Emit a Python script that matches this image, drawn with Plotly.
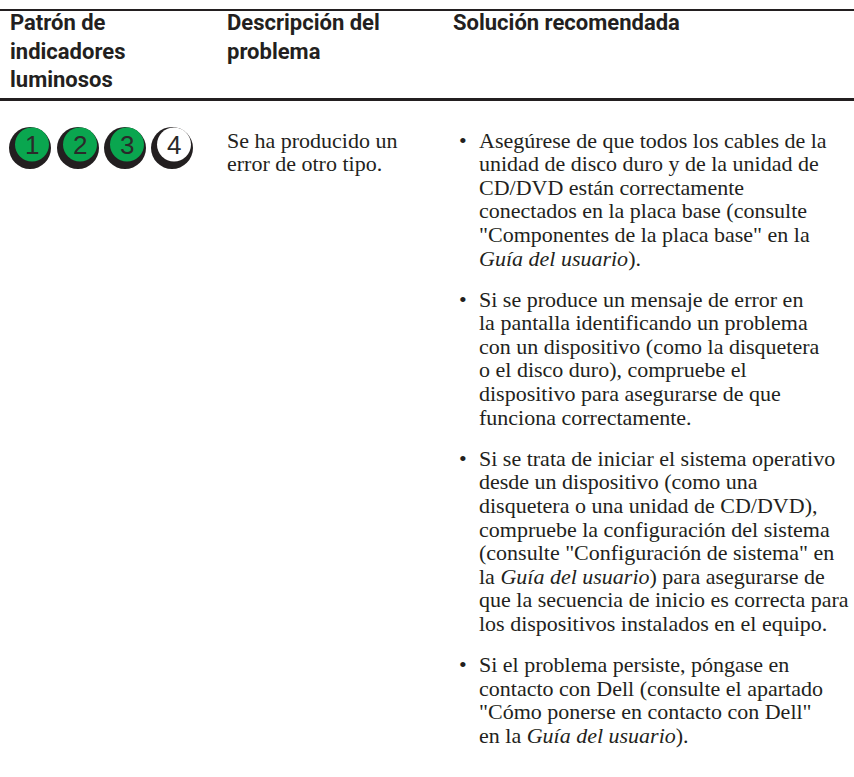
import plotly.graph_objects as go

# ---- table content ----
headers = [
    ["Patrón de", "indicadores", "luminosos"],
    ["Descripción del", "problema"],
    ["Solución recomendada"],
]
led_labels = ["1", "2", "3", "4"]
led_on = [True, True, True, False]
description = ["Se ha producido un", "error de otro tipo."]
solutions = [
    ["Asegúrese de que todos los cables de la",
     "unidad de disco duro y de la unidad de",
     "CD/DVD están correctamente",
     "conectados en la placa base (consulte",
     "\"Componentes de la placa base\" en la",
     "<i>Guía del usuario</i>)."],
    ["Si se produce un mensaje de error en",
     "la pantalla identificando un problema",
     "con un dispositivo (como la disquetera",
     "o el disco duro), compruebe el",
     "dispositivo para asegurarse de que",
     "funciona correctamente."],
    ["Si se trata de iniciar el sistema operativo",
     "desde un dispositivo (como una",
     "disquetera o una unidad de CD/DVD),",
     "compruebe la configuración del sistema",
     "(consulte \"Configuración de sistema\" en",
     "la <i>Guía del usuario</i>) para asegurarse de",
     "que la secuencia de inicio es correcta para",
     "los dispositivos instalados en el equipo."],
    ["Si el problema persiste, póngase en",
     "contacto con Dell (consulte el apartado",
     "\"Cómo ponerse en contacto con Dell\"",
     "en la <i>Guía del usuario</i>)."],
]

# ---- layout constants ----
W, H = 854, 777
col_x = [8, 225, 451]
bullet_x, text_x = 463, 477
body_size = 22
head_size = 22
line0, lead, gap = 140, 23.6, 17.5
ink = "#231f20"
green = "#0aa64f"
body_font = dict(family="Liberation Serif, Times New Roman, serif", size=body_size, color=ink)
head_font = dict(family="Roboto, Liberation Sans, Arial, sans-serif",
                 size=head_size, color=ink, weight="bold")

fig = go.Figure()
ann = []
shapes = []

# header
head_centers = [22, 51, 79]
for c, lines in enumerate(headers):
    for i, t in enumerate(lines):
        ann.append(dict(x=col_x[c], y=head_centers[i], text=t, font=head_font))

# rules
shapes.append(dict(type="line", x0=0, x1=W, y0=10, y1=10, line=dict(color=ink, width=2)))
shapes.append(dict(type="line", x0=0, x1=W, y0=99.5, y1=99.5, line=dict(color=ink, width=3)))

# LED indicators
led_cx = [31, 79, 126, 173]
for cx, lab, on in zip(led_cx, led_labels, led_on):
    shapes.append(dict(type="circle", x0=cx - 22, x1=cx + 20, y0=127, y1=169,
                       fillcolor=ink, line=dict(width=0)))
    shapes.append(dict(type="circle", x0=cx - 16, x1=cx + 18, y0=127.5, y1=161.5,
                       fillcolor=green if on else "white", line=dict(width=0)))
    ann.append(dict(x=cx + 1, y=145, text=lab, xanchor="center",
                    font=dict(family="Liberation Sans, Arial, sans-serif", size=26, color="#2a2a2a")))

# description column
for i, t in enumerate(description):
    ann.append(dict(x=col_x[1], y=line0 + lead * i, text=t, font=body_font))

# solutions
k = 0
for b, lines in enumerate(solutions):
    for j, t in enumerate(lines):
        yc = line0 + lead * k + gap * b
        if j == 0:
            ann.append(dict(x=bullet_x, y=yc, text="•", xanchor="center", font=body_font))
        ann.append(dict(x=text_x, y=yc, text=t, font=body_font))
        k += 1

for a in ann:
    a.setdefault("xanchor", "left")
    a["yanchor"] = "middle"
    a["showarrow"] = False
    a["xref"] = "x"
    a["yref"] = "y"

fig.update_layout(
    width=W, height=H, margin=dict(l=0, r=0, t=0, b=0),
    paper_bgcolor="white", plot_bgcolor="white",
    xaxis=dict(range=[0, W], visible=False, fixedrange=True),
    yaxis=dict(range=[H, 0], visible=False, fixedrange=True),
    annotations=ann, shapes=shapes, showlegend=False,
)
fig.write_html("out.html", config={"displayModeBar": False},
               post_script="document.body.style.margin='0';")
